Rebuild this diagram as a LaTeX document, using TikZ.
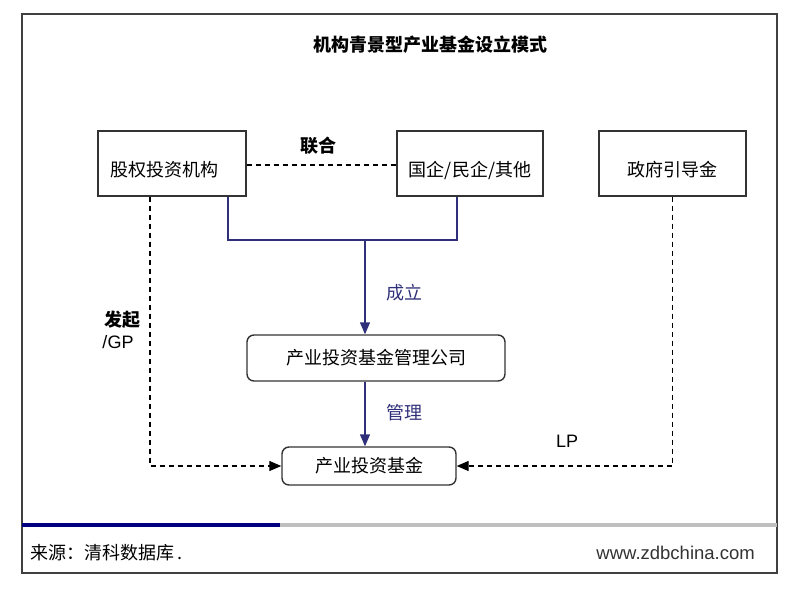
\documentclass[tikz,border=0pt]{standalone}
\usepackage{fontspec}
\setmainfont{Noto Sans CJK SC}
\newfontfamily\latinfont{Liberation Sans}
\usetikzlibrary{positioning, arrows.meta}
\usetikzlibrary{calc}
\definecolor{linknavy}{HTML}{30307A}
\definecolor{barnavy}{HTML}{000080}
\tikzset{
>={Triangle[length=12pt,width=10pt]}, % filled arrow heads
every node/.style={font=\fontsize{18}{21}\selectfont, inner sep=0pt}, % text size of the reference
entity/.style={draw=black!80, line width=1.4pt, minimum height=65pt, text height=26pt, text depth=0pt}, % the three upper boxes
vehicle/.style={draw=black!80, line width=1.4pt, rounded corners=7pt}, % the two lower boxes
link/.style={draw=linknavy, line width=1.4pt}, % solid navy connectors
loose/.style={dash pattern=on 5pt off 4pt, line width=1.3pt}, % dashed connectors
navylabel/.style={text=linknavy}, % labels along the navy connectors
}

\begin{document}
\begin{tikzpicture}[x=1pt, y=-1pt]
    \useasboundingbox (0,0) rectangle (800,592);
    \draw[black!75, line width=1.6pt] (22,14) rectangle (777,573);
    \node[font=\fontsize{18}{21}\selectfont\bfseries] (title) at (430,45) {机构青景型产业基金设立模式};

    \node[entity, minimum width=148pt, text width=124pt, inner xsep=12pt, align=left] (pe) at (172,163.5) {股权投资机构};
    \node[entity, minimum width=146pt] (soe) at (470,163.5) {国企/民企/其他};
    \node[entity, minimum width=147pt] (gov) at (672.5,163.5) {政府引导金};
    \node[vehicle, minimum width=258pt, minimum height=46pt] (mgmt) at (376,358) {产业投资基金管理公司};
    \node[vehicle, minimum width=174pt, minimum height=38pt] (fund) at (369,466) {产业投资基金};
    \coordinate (join) at (365,240);

    \node[font=\fontsize{18}{21}\selectfont\bfseries] (unite) at (318,146) {联合};
    \node[navylabel] (found) at (404,293) {成立};
    \node[navylabel] (manage) at (404,413) {管理};
    \node[font=\fontsize{18}{21}\selectfont\bfseries] (launch) at (122,320) {发起};
    \node[font=\fontsize{18}{21}\latinfont] (gp) at (118,342) {/GP};
    \node[font=\fontsize{18}{21}\latinfont] (lp) at (567,441) {LP};

    \draw[loose] (pe.east |- 0,165) -- (soe.west |- 0,165);
    \draw[link] ([xshift=56pt]pe.south) |- (join) -| ([xshift=-13pt]soe.south);
    \draw[link, ->] (join) -- (join |- mgmt.north);
    \draw[link, ->] (mgmt.south -| join) -- (fund.north -| join);
    \draw[loose, ->] ([xshift=-22pt]pe.south) |- (fund.west);
    \draw[loose, ->] (gov.south) |- (fund.east);

    \draw[barnavy, line width=4pt] (22,525) -- (280,525);
    \draw[black!25, line width=4pt] (280,525) -- (777,525);
    \node[anchor=west] (source) at (30,553) {来源：清科数据库\,.};
    \node[anchor=east, font=\fontsize{18.5}{21}\latinfont, text=black!80] (site) at (755,553) {www.zdbchina.com};
\end{tikzpicture}
\end{document}
